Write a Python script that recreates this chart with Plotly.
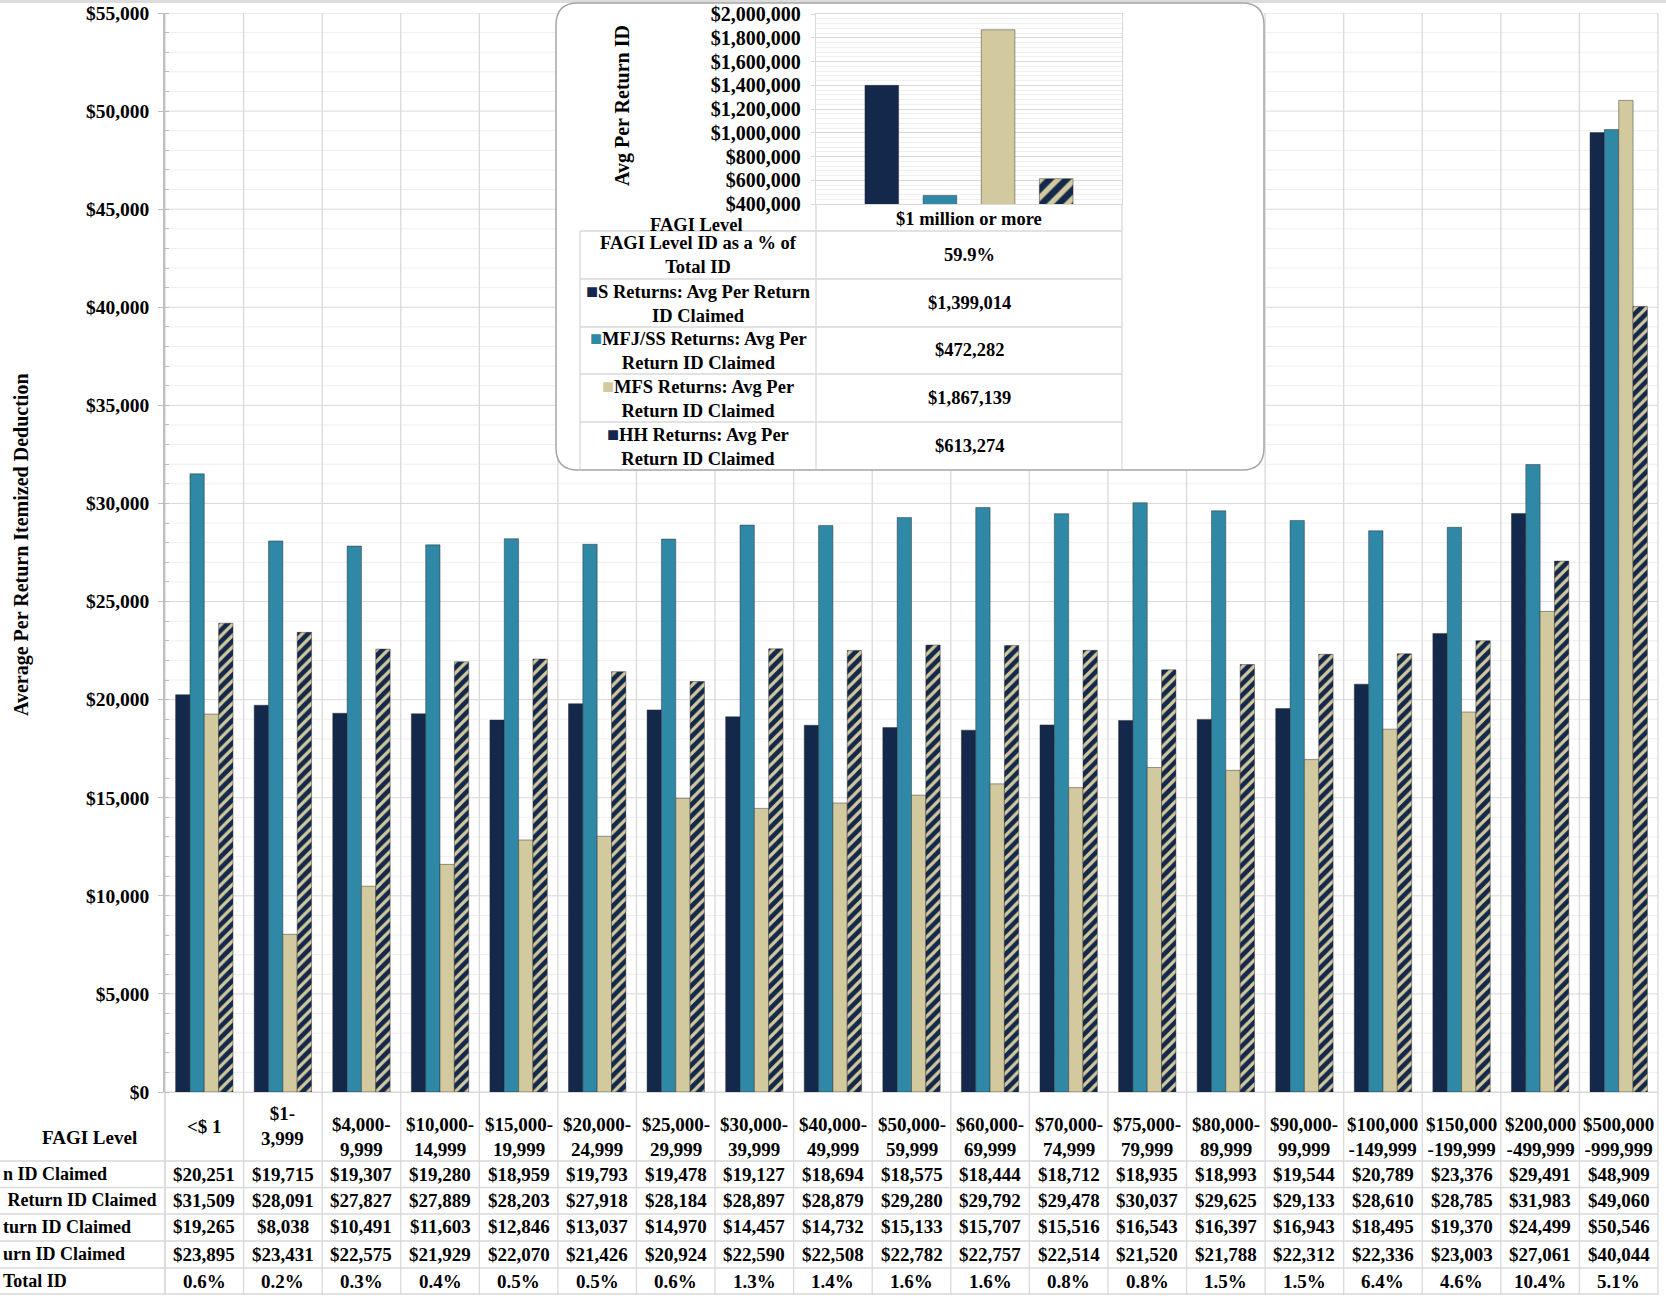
import plotly.graph_objects as go

# ---------------- data ----------------
fagi_levels = ["<$ 1", "$1-<br>3,999", "$4,000-<br>9,999", "$10,000-<br>14,999",
               "$15,000-<br>19,999", "$20,000-<br>24,999", "$25,000-<br>29,999",
               "$30,000-<br>39,999", "$40,000-<br>49,999", "$50,000-<br>59,999",
               "$60,000-<br>69,999", "$70,000-<br>74,999", "$75,000-<br>79,999",
               "$80,000-<br>89,999", "$90,000-<br>99,999", "$100,000<br>-149,999",
               "$150,000<br>-199,999", "$200,000<br>-499,999", "$500,000<br>-999,999"]
s_avg = [20251, 19715, 19307, 19280, 18959, 19793, 19478, 19127, 18694, 18575,
         18444, 18712, 18935, 18993, 19544, 20789, 23376, 29491, 48909]
mfj_avg = [31509, 28091, 27827, 27889, 28203, 27918, 28184, 28897, 28879, 29280,
           29792, 29478, 30037, 29625, 29133, 28610, 28785, 31983, 49060]
mfs_avg = [19265, 8038, 10491, 11603, 12846, 13037, 14970, 14457, 14732, 15133,
           15707, 15516, 16543, 16397, 16943, 18495, 19370, 24499, 50546]
hh_avg = [23895, 23431, 22575, 21929, 22070, 21426, 20924, 22590, 22508, 22782,
          22757, 22514, 21520, 21788, 22312, 22336, 23003, 27061, 40044]
pct_total = ["0.6%", "0.2%", "0.3%", "0.4%", "0.5%", "0.5%", "0.6%", "1.3%", "1.4%",
             "1.6%", "1.6%", "0.8%", "0.8%", "1.5%", "1.5%", "6.4%", "4.6%", "10.4%", "5.1%"]

series_names = ["S Returns: Avg Per Return ID Claimed",
                "MFJ/SS Returns: Avg Per Return ID Claimed",
                "MFS Returns: Avg Per Return ID Claimed",
                "HH Returns: Avg Per Return ID Claimed"]
# visible (left-clipped) row labels of the main table
row_labels_visible = ["n ID Claimed", " Return ID Claimed", "turn ID Claimed",
                      "urn ID Claimed", "Total ID"]

million_level = "$1 million or more"
million_pct = "59.9%"
million_vals = [1399014, 472282, 1867139, 613274]
inset_row_labels = ["S Returns: Avg Per Return<br>ID Claimed",
                    "MFJ/SS Returns: Avg Per<br>Return ID Claimed",
                    "MFS Returns: Avg Per<br>Return ID Claimed",
                    "HH Returns: Avg Per<br>Return ID Claimed"]

# ---------------- style ----------------
NAVY = "#13284a"
TEAL = "#2f88a6"
BEIGE = "#d3c99f"
GRID = "#d9d9d9"
MINOR = "#efefef"
FONT = "Liberation Serif"
W, H = 1666, 1296
PL, PR, PT, PB = 165, 1658, 13, 1092


def xp(px):
    return (px - PL) / (PR - PL)


def yp(py):
    return (PB - py) / (PB - PT)


def fmt_money(v):
    return "${:,}".format(v)


fig = go.Figure()

bar_line = dict(color="rgba(40,40,40,0.45)", width=1)
colors = [NAVY, TEAL, BEIGE, NAVY]
values = [s_avg, mfj_avg, mfs_avg, hh_avg]
for k in range(4):
    marker = dict(color=colors[k], line=bar_line)
    if k == 3:
        marker = dict(color=NAVY, line=bar_line,
                      pattern=dict(shape="/", fgcolor=BEIGE, bgcolor=NAVY,
                                   size=8, solidity=0.4, fillmode="replace"))
    fig.add_trace(go.Bar(x=fagi_levels, y=values[k], name=series_names[k],
                         marker=marker, xaxis="x", yaxis="y", showlegend=False))

# inset bars
offsets = [-0.34, -0.15, 0.04, 0.23]
for k in range(4):
    marker = dict(color=colors[k], line=bar_line)
    if k == 3:
        marker = dict(color=NAVY, line=bar_line,
                      pattern=dict(shape="/", fgcolor=BEIGE, bgcolor=NAVY,
                                   size=12, solidity=0.45, fillmode="replace"))
    fig.add_trace(go.Bar(x=[million_level], y=[million_vals[k]], name=series_names[k],
                         marker=marker, xaxis="x2", yaxis="y2", width=0.11,
                         offset=offsets[k], showlegend=False))

shapes = []
# top grey band
shapes.append(dict(type="rect", xref="paper", yref="paper", x0=xp(0), x1=xp(W),
                   y0=yp(3), y1=yp(0), fillcolor="#dcdcdc", line=dict(width=0),
                   layer="below"))
# main gridlines (minor then major)
for v in range(0, 55001, 1000):
    if v % 5000:
        shapes.append(dict(type="line", xref="paper", yref="y", x0=0, x1=1, y0=v, y1=v,
                           line=dict(color=MINOR, width=1), layer="below"))
for v in range(0, 55001, 5000):
    shapes.append(dict(type="line", xref="paper", yref="y", x0=0, x1=1, y0=v, y1=v,
                       line=dict(color=GRID, width=1), layer="below"))
n = len(fagi_levels)
for i in range(n + 1):
    shapes.append(dict(type="line", xref="paper", yref="paper", x0=i / n, x1=i / n,
                       y0=yp(1295), y1=1, line=dict(color=GRID, width=1.3), layer="below"))
# main table horizontal lines
for py in [1161, 1187.5, 1214, 1241, 1268, 1294]:
    shapes.append(dict(type="line", xref="paper", yref="paper", x0=xp(0), x1=1,
                       y0=yp(py), y1=yp(py), line=dict(color=GRID, width=1.3), layer="below"))
shapes.append(dict(type="line", xref="paper", yref="paper", x0=xp(PL), x1=xp(PL),
                   y0=yp(1294), y1=yp(PB), line=dict(color=GRID, width=1.3), layer="below"))

# inset rounded box
bx0, bx1, by0, by1 = xp(556), xp(1264), yp(470), yp(3)
rx, ry = 22 / (PR - PL), 22 / (PB - PT)
path = (f"M {bx0+rx},{by1} L {bx1-rx},{by1} Q {bx1},{by1} {bx1},{by1-ry} "
        f"L {bx1},{by0+ry} Q {bx1},{by0} {bx1-rx},{by0} L {bx0+rx},{by0} "
        f"Q {bx0},{by0} {bx0},{by0+ry} L {bx0},{by1-ry} Q {bx0},{by1} {bx0+rx},{by1} Z")
shapes.append(dict(type="path", xref="paper", yref="paper", path=path,
                   fillcolor="white", line=dict(color="#a6a6a6", width=1.5), layer="below"))
# inset table lines
for py in [231, 279, 327, 374, 422]:
    shapes.append(dict(type="line", xref="paper", yref="paper", x0=xp(580), x1=xp(1122),
                       y0=yp(py), y1=yp(py), line=dict(color=GRID, width=1.3), layer="below"))
shapes.append(dict(type="line", xref="paper", yref="paper", x0=xp(580), x1=xp(580),
                   y0=yp(469), y1=yp(231), line=dict(color=GRID, width=1.3), layer="below"))
for px in [816, 1122]:
    shapes.append(dict(type="line", xref="paper", yref="paper", x0=xp(px), x1=xp(px),
                       y0=yp(469), y1=yp(204), line=dict(color=GRID, width=1.3), layer="below"))

ann = []
TF = dict(family=FONT, size=19, color="black", weight="bold")
RF = dict(family=FONT, size=18, color="black", weight="bold")
IF = dict(family=FONT, size=18.5, color="black", weight="bold")


def add_text(text, x, y, font, xref="paper", xanchor="center", **kw):
    ann.append(dict(text=text, xref=xref, yref="paper", x=x, y=y, showarrow=False,
                    xanchor=xanchor, yanchor="middle", font=font, **kw))


# main y title
add_text("Average Per Return Itemized Deduction", xp(21), yp(545),
         dict(family=FONT, size=20, color="black", weight="bold"), textangle=-90)
# table header
add_text("FAGI Level", xp(89), yp(1137), TF)
for i, lab in enumerate(fagi_levels):
    cy = 1126 if i < 2 else 1137
    add_text(lab, lab, yp(cy), TF, xref="x")
row_y = [1174, 1200, 1227, 1254, 1281]
for r, lab in enumerate(row_labels_visible):
    add_text(lab, xp(1), yp(row_y[r]), RF, xanchor="left")
for k in range(4):
    for i, lab in enumerate(fagi_levels):
        add_text(fmt_money(values[k][i]), lab, yp(row_y[k]), TF, xref="x")
for i, lab in enumerate(fagi_levels):
    add_text(pct_total[i], lab, yp(row_y[4]), TF, xref="x")

# inset texts
add_text("Avg Per Return ID", xp(622), yp(106),
         dict(family=FONT, size=20, color="black", weight="bold"), textangle=-90)
add_text("FAGI Level", xp(696), yp(225), IF)
add_text(million_level, xp(969), yp(219), IF)
add_text("FAGI Level ID as a % of<br>Total ID", xp(698), yp(255), IF)
add_text(million_pct, xp(969), yp(255), IF)
key_colors = [NAVY, TEAL, BEIGE, NAVY]
inset_row_y = [303, 350, 398, 446]
for k in range(4):
    txt = f'<span style="color:{key_colors[k]};font-size:20px">■</span>' + inset_row_labels[k]
    add_text(txt, xp(698), yp(inset_row_y[k]), IF)
    add_text(fmt_money(million_vals[k]), xp(969), yp(inset_row_y[k]), IF)

fig.update_layout(
    width=W, height=H,
    margin=dict(l=PL, r=W - PR, t=PT, b=H - PB, autoexpand=False),
    paper_bgcolor="white", plot_bgcolor="rgba(0,0,0,0)",
    barmode="group", bargap=0.27, bargroupgap=0,
    showlegend=False,
    shapes=shapes, annotations=ann,
    xaxis=dict(domain=[0, 1], type="category", range=[-0.5, n - 0.5], showticklabels=False,
               showgrid=False, zeroline=False, showline=True, linecolor=GRID, ticks="",
               automargin=False),
    yaxis=dict(domain=[0, 1], range=[0, 55000], dtick=5000, tickprefix="$", tickformat=",.0f",
               showgrid=False, zeroline=False, showline=True, linecolor="#bfbfbf", linewidth=1.5,
               ticks="outside", ticklen=5, tickcolor="#bfbfbf", automargin=False,
               ticklabelstandoff=5,
               minor=dict(dtick=1000, ticks="inside", ticklen=4, tickcolor="#bfbfbf", showgrid=False),
               tickfont=dict(family=FONT, size=19.5, color="black", weight="bold")),
    xaxis2=dict(domain=[xp(816), xp(1122)], anchor="y2", type="category", showticklabels=False,
                range=[-0.5, 0.5], showgrid=False, zeroline=False, showline=True, mirror=True,
                linecolor=GRID, linewidth=1.3, ticks="", automargin=False),
    yaxis2=dict(domain=[yp(204), yp(14)], anchor="x2", range=[400000, 2000000], dtick=200000,
                tickprefix="$", tickformat=",.0f", showgrid=True, gridcolor=GRID,
                zeroline=False, showline=True, mirror=True, linecolor=GRID, linewidth=1.3,
                ticks="outside", ticklen=4, tickcolor=GRID, ticklabelstandoff=6, automargin=False,
                minor=dict(dtick=40000, showgrid=True, gridcolor=MINOR, ticks=""),
                tickfont=dict(family=FONT, size=20, color="black", weight="bold")),
    font=dict(family=FONT, color="black"),
)

fig.write_html("out.html", config={"displayModeBar": False},
               post_script="document.body.style.margin='0';document.body.style.overflow='hidden';")
